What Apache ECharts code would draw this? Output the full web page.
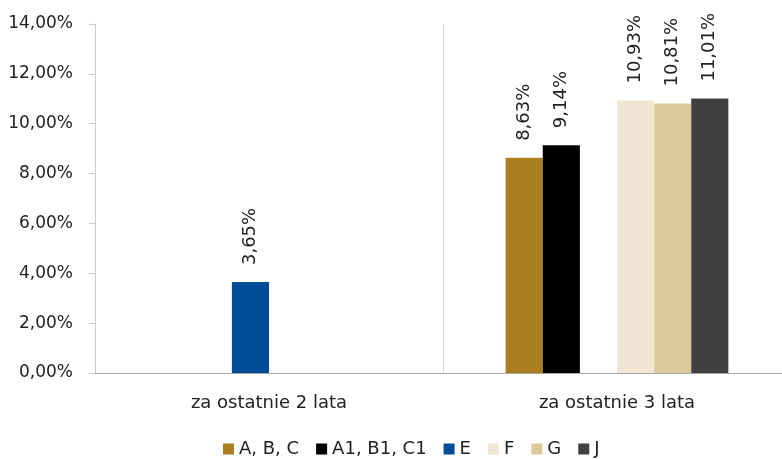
<!DOCTYPE html>
<html><head><meta charset="utf-8">
<script src="https://cdn.jsdelivr.net/npm/echarts@6/dist/echarts.min.js"></script>
<style>html,body{margin:0;padding:0;background:#fff}#c{width:782px;height:460px}</style>
</head><body><div id="c"></div>
<script>
const categories = ['za ostatnie 2 lata', 'za ostatnie 3 lata'];
const seriesNames = ['A, B, C', 'A1, B1, C1', 'E', 'F', 'G', 'J'];
const valsABC = [null, 8.63];
const valsA1B1C1 = [null, 9.14];
const valsE = [3.65, null];
const valsF = [null, 10.93];
const valsG = [null, 10.81];
const valsJ = [null, 11.01];
const yTicks = [0, 2, 4, 6, 8, 10, 12, 14];
const colors = ['#AB7E22', '#000000', '#004C97', '#F0E6D3', '#DCC898', '#404040'];
const allVals = [valsABC, valsA1B1C1, valsE, valsF, valsG, valsJ];
const FONT = 'DejaVu Sans';
const fmt = v => v.toFixed(2).replace('.', ',') + '%';
const chart = echarts.init(document.getElementById('c'));
chart.setOption({
  animation: false,
  textStyle: { fontFamily: FONT },
  grid: { left: 95, width: 696, top: 24, bottom: 87, containLabel: false, outerBoundsMode: 'none' },
  legend: {
    top: 440, left: 223, padding: 0,
    itemWidth: 11, itemHeight: 11, itemGap: 17,
    textStyle: { fontSize: 18, color: '#222', fontFamily: FONT },
    data: seriesNames.map((n) => ({ name: n, icon: 'rect' }))
  },
  xAxis: {
    type: 'category', data: categories,
    axisLine: { lineStyle: { color: '#a6a6a6' } },
    axisTick: { show: false },
    splitLine: { show: true, lineStyle: { color: '#d9d9d9' } },
    axisLabel: { fontSize: 18, color: '#222', margin: 21 }
  },
  yAxis: {
    type: 'value', min: yTicks[0], max: yTicks[yTicks.length - 1], interval: 2,
    axisLine: { show: true, lineStyle: { color: '#c8c8c8' } },
    axisTick: { show: true, length: 6, lineStyle: { color: '#c8c8c8' } },
    splitLine: { show: false },
    axisLabel: { fontSize: 17, color: '#222', margin: 22, formatter: v => fmt(v) }
  },
  series: seriesNames.map((n, i) => ({
    name: n, type: 'bar', data: allVals[i],
    barGap: '0%', barCategoryGap: '36%',
    itemStyle: { color: colors[i] },
    label: {
      show: true, position: 'top', rotate: 90, align: 'left', verticalAlign: 'middle',
      distance: 17, fontSize: 18, color: '#222', fontFamily: FONT,
      formatter: p => p.value == null ? '' : fmt(p.value)
    }
  }))
});
</script></body></html>
